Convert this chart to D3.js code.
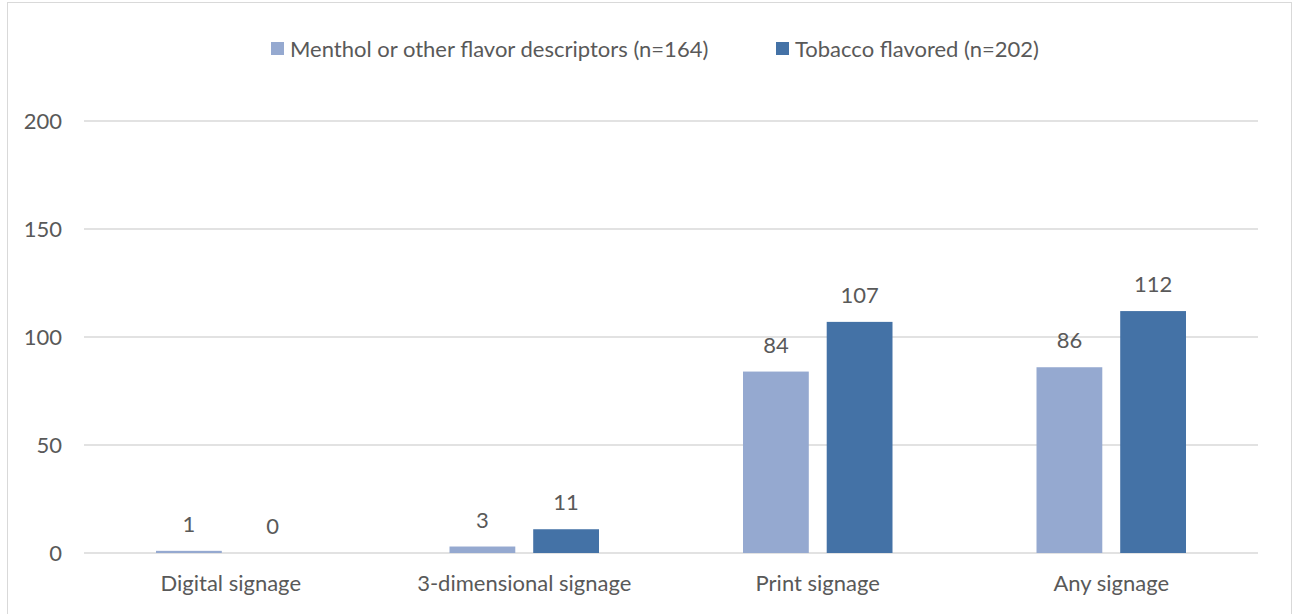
<!DOCTYPE html>
<html>
<head>
<meta charset="utf-8">
<script src="https://cdn.jsdelivr.net/npm/d3@7"></script>
<style>
  body { margin: 0; background: #fff; }
  text { font-family: Lato, "Open Sans", sans-serif; fill: #595959; }
</style>
</head>
<body>
<div id="chart"></div>
<script>
// chart data
const categories = ["Digital signage", "3-dimensional signage", "Print signage", "Any signage"]
const seriesNames = ["Menthol or other flavor descriptors (n=164)", "Tobacco flavored (n=202)"]
const menthol = [1, 3, 84, 86]
const tobacco = [0, 11, 107, 112]
const yTicks = [0, 50, 100, 150, 200]
const colors = ["#95a9d0", "#4472a6"]

const W = 1292, H = 614
const margin = {top: 121, right: 34, bottom: 61, left: 84}
const width = W - margin.left - margin.right,
  height = H - margin.top - margin.bottom
const fs = "22px"

const svg = d3.select("#chart").append("svg")
  .attr("width", W).attr("height", H)

// outer frame
svg.append("rect")
  .attr("x", 7.5).attr("y", 2.5)
  .attr("width", W - 8).attr("height", H)
  .attr("fill", "none").attr("stroke", "#d9d9d9")

const g = svg.append("g")
  .attr("transform", "translate(" + margin.left + "," + margin.top + ")")

const x = d3.scaleBand().domain(categories).range([0, width])
const x1 = d3.scaleBand().domain([0, 1]).range([72, x.bandwidth() - 72]).paddingInner(0.214)
const y = d3.scaleLinear().domain([0, 200]).range([height, 0])

// gridlines
g.selectAll(".grid").data(yTicks).enter().append("line")
  .attr("x1", 0).attr("x2", width)
  .attr("y1", d => y(d)).attr("y2", d => y(d))
  .attr("stroke", "#d9d9d9").attr("stroke-width", 1.3)

// y axis labels
const yAxis = g.append("g")
  .call(d3.axisLeft(y).tickValues(yTicks).tickSize(0).tickPadding(22))
yAxis.select(".domain").remove()
yAxis.selectAll("text").style("font-size", fs).attr("fill", "#595959")
  .style("font-family", "Lato, sans-serif")

// x axis labels
const xAxis = g.append("g")
  .attr("transform", "translate(0," + height + ")")
  .call(d3.axisBottom(x).tickSize(0).tickPadding(22))
xAxis.select(".domain").remove()
xAxis.selectAll("text").style("font-size", fs).attr("fill", "#595959")
  .style("font-family", "Lato, sans-serif")

const rows = categories.map((c, i) => ({cat: c, vals: [menthol[i], tobacco[i]]}))

const groups = g.selectAll(".grp").data(rows).enter().append("g")
  .attr("transform", d => "translate(" + x(d.cat) + ",0)")

groups.selectAll("rect").data(d => d.vals).enter().append("rect")
  .attr("x", (d, i) => x1(i))
  .attr("width", x1.bandwidth())
  .attr("y", d => y(d))
  .attr("height", d => height - y(d))
  .attr("fill", (d, i) => colors[i])

groups.selectAll(".lbl").data(d => d.vals).enter().append("text")
  .attr("x", (d, i) => x1(i) + x1.bandwidth() / 2)
  .attr("y", d => y(d) - 19)
  .attr("text-anchor", "middle")
  .style("font-size", fs)
  .text(d => d)

// legend
const legendX = [271, 776]
const leg = svg.selectAll(".leg").data(seriesNames).enter().append("g")
  .attr("transform", (d, i) => "translate(" + legendX[i] + ",42)")
leg.append("rect").attr("width", 13).attr("height", 13)
  .attr("fill", (d, i) => colors[i])
leg.append("text").attr("x", 19).attr("y", 15)
  .style("font-size", fs)
  .text(d => d)
</script>
</body>
</html>
